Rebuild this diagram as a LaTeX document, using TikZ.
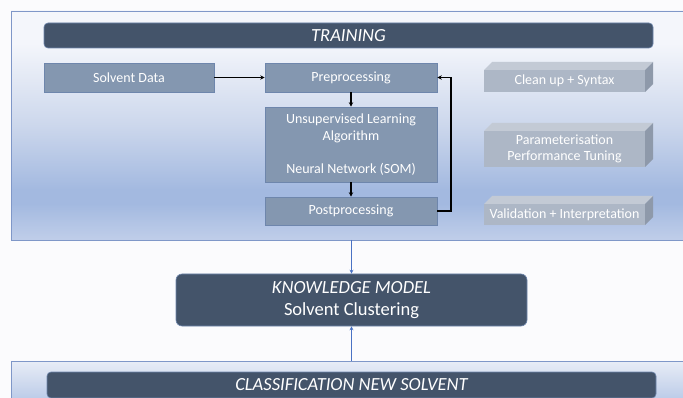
\documentclass[tikz,border=0pt]{standalone}
\usepackage{fontspec}
\setmainfont{Carlito}
\usetikzlibrary{arrows.meta}
\definecolor{bgc}{HTML}{FBFBFD}
\definecolor{darkbar}{HTML}{44546A}
\definecolor{boxfill}{HTML}{8497B0}
\definecolor{boxline}{HTML}{6E86AC}
\definecolor{panelline}{HTML}{7F97C8}
\definecolor{pA}{HTML}{C0CEE9}
\definecolor{pB}{HTML}{A3B9E0}
\definecolor{pC}{HTML}{CCD7EC}
\definecolor{pD}{HTML}{F4F6FB}
\definecolor{gfront}{HTML}{ADB7C6}
\definecolor{gtop}{HTML}{C3CAD5}
\definecolor{gside}{HTML}{8E99AA}
\definecolor{bluearrow}{HTML}{4A72C4}
\pgfdeclareverticalshading{panelshade}{100bp}{color(0bp)=(pA); color(25bp)=(pA); color(33bp)=(pB); color(36bp)=(pB); color(50bp)=(pC); color(68bp)=(pD); color(100bp)=(pD)}
\tikzset{
  bar/.style={fill=darkbar, draw=boxline, line width=0.6pt, rounded corners=4pt, text=white},
  procbox/.style={fill=boxfill, draw=boxline, line width=0.6pt, text=white, inner sep=0pt,
     font=\fontsize{14}{16.5}\selectfont, align=center},
  blk/.style={draw=black, line width=1.3pt, -{Stealth[length=4.5pt,width=4.5pt]}},
  blu/.style={draw=bluearrow, line width=1.4pt, -{Stealth[length=4pt,width=4pt]}},
  gtext/.style={text=white, font=\fontsize{14}{15.5}\selectfont, align=center},
}
\newcommand{\greybox}[5]{% x1 y1(front top) x2 y2 name
  \fill[gtop] (#1,#2) -- (#1+8,#2-8) -- (#3+8,#2-8) -- (#3,#2) -- cycle;
  \fill[gside] (#3,#2) -- (#3+8,#2-8) -- (#3+8,#4-8) -- (#3,#4) -- cycle;
  \fill[gfront] (#1,#2) rectangle (#3,#4);
  \coordinate (#5) at ({(#1+#3)/2},{(#2+#4)/2});
}
\begin{document}
\begin{tikzpicture}[x=1pt,y=-1pt]
\useasboundingbox (0,0) rectangle (683,398);
\clip (0,0) rectangle (683,398);
\fill[bgc] (0,0) rectangle (683,398);
% training panel
\path[shading=panelshade, draw=panelline, line width=0.8pt] (11,11) rectangle (690,240);
% bottom panel
\path[top color=pD!70!pC, bottom color=pB, draw=panelline, line width=0.8pt] (11,361) rectangle (690,420);

\node[bar, minimum width=609pt, minimum height=25pt, font=\fontsize{18.5}{21}\selectfont\itshape] (train) at (348.5,35.5) {TRAINING};

\node[procbox, minimum width=170pt, minimum height=29pt] (sd) at (129,77.5) {Solvent Data};
\node[procbox, minimum width=172pt, minimum height=29pt] (pre) at (351,77.5) {Preprocessing};
\node[procbox, minimum width=172pt, minimum height=75pt] (uns) at (351,144.5) {Unsupervised Learning\\Algorithm\\[16.5pt]Neural Network (SOM)};
\node[procbox, minimum width=172pt, minimum height=28pt] (post) at (351,211) {Postprocessing};

\draw[blk] (sd.east) -- (pre.west);
\draw[blk] (pre.south) -- (uns.north);
\draw[blk] (uns.south) -- (post.north);
\coordinate (fb) at (451,0);
\draw[blk] (post.east) -| (fb |- pre.east) -- (pre.east);

\greybox{484}{70}{645}{92}{g1}
\node[gtext] (t1) at (g1) {Clean up + Syntax};
\greybox{484}{131}{645}{167}{g2}
\node[gtext] (t2) at (g2) {Parameterisation\\Performance Tuning};
\greybox{484}{204}{645}{225}{g3}
\node[gtext] (t3) at (g3) {Validation + Interpretation};

\node[bar, rounded corners=6pt, minimum width=351pt, minimum height=52pt, align=center,
  font=\fontsize{18.5}{22}\selectfont] (km) at (351.5,300) {\textit{KNOWLEDGE MODEL}\\Solvent Clustering};

\node[bar, minimum width=609pt, minimum height=26pt, font=\fontsize{18.5}{21}\selectfont\itshape] (cls) at (351.5,385) {CLASSIFICATION NEW SOLVENT};

\coordinate (tb) at (351.5,240);
\coordinate (bt) at (351.5,361);
\draw[blu] (tb) -- (km.north);
\draw[blu] (bt) -- (km.south);
\end{tikzpicture}
\end{document}
